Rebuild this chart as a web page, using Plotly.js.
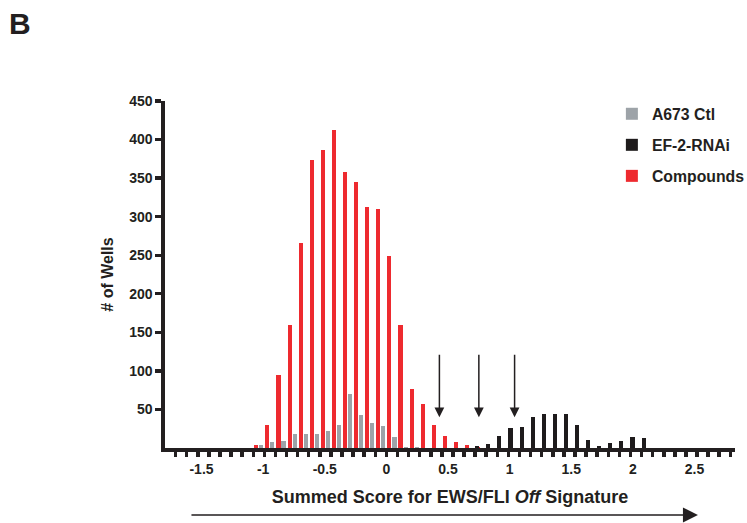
<!DOCTYPE html>
<html>
<head>
<meta charset="utf-8">
<script src="https://cdn.plot.ly/plotly-3.0.1.min.js"></script>
<style>html,body{margin:0;padding:0;background:#fff;}#chart{width:747px;height:523px;}</style>
</head>
<body>
<div id="chart"></div>
<script>
// Bin centres (score units) for the compound / control histograms
const binCenters = [-1.035, -0.945, -0.855, -0.765, -0.675, -0.585, -0.495, -0.405, -0.315, -0.225,
                    -0.135, -0.045, 0.045, 0.135, 0.225, 0.315, 0.405, 0.495, 0.585, 0.675, 0.765];
const compounds = [4, 30, 95, 160, 266, 373, 387, 412, 358, 345, 312, 310, 249, 160, 77, 57, 30, 16, 8, 4, 1];
const ctlCenters = [-1.035, -0.945, -0.855, -0.765, -0.675, -0.585, -0.495, -0.405, -0.315, -0.225,
                    -0.135, -0.045, 0.045, 0.135, 0.225];
const a673Ctl = [4, 8, 9, 18, 18, 18, 22, 30, 70, 43, 32, 28, 14, 1, 1];
// EF-2-RNAi histogram bins
const rnaiBins = [0.72, 0.81, 0.90, 0.99, 1.08, 1.17, 1.26, 1.35, 1.44, 1.53, 1.62, 1.71, 1.80, 1.89, 1.98, 2.07];
const ef2RNAi = [2, 5, 15, 26, 27, 40, 44, 44, 44, 30, 10, 3, 6, 9, 14, 13];
// axis labels
const xTickVals = [-1.5, -1, -0.5, 0, 0.5, 1, 1.5, 2, 2.5];
const xTickText = ['-1.5', '-1', '-0.5', '0', '0.5', '1', '1.5', '2', '2.5'];
const yTickVals = [50, 100, 150, 200, 250, 300, 350, 400, 450];
// hit thresholds marked by arrows
const arrowX = [0.43, 0.75, 1.04];
const arrowTip = 40, arrowTail = 123;

const INK = '#231f20';
const FONT = 'Liberation Sans, Arial, Helvetica, sans-serif';
const BW = 0.033;

const traces = [
  {type: 'bar', name: 'Compounds', x: binCenters, y: compounds, offset: -0.037, width: BW,
   marker: {color: '#ee2a2f', line: {width: 0}}, legendrank: 3, legendgroup: 'c', hoverinfo: 'x+y'},
  {type: 'bar', name: 'A673 Ctl', x: ctlCenters, y: a673Ctl, offset: 0.004, width: BW,
   marker: {color: '#9da3a8', line: {width: 0}}, legendrank: 1, legendgroup: 'a', hoverinfo: 'x+y'},
  {type: 'bar', name: 'EF-2-RNAi', x: rnaiBins, y: ef2RNAi, offset: 0.0, width: BW, xaxis: 'x2',
   marker: {color: '#1e1b1c', line: {width: 0}}, legendrank: 2, legendgroup: 'b', hoverinfo: 'x+y'}
];

const annotations = [
  {xref: 'paper', yref: 'paper', x: -0.2773, y: 1.2764, xanchor: 'left', yanchor: 'top',
   text: '<b>B</b>', showarrow: false, font: {size: 30, color: INK, family: FONT}},
  {xref: 'paper', yref: 'paper', x: 0.935, y: -0.193, ax: -508, ay: 0, text: '',
   showarrow: true, arrowhead: 2, arrowsize: 2.0, arrowwidth: 1.5, arrowcolor: INK}
];
arrowX.forEach(function (ax) {
  annotations.push({xref: 'x', yref: 'y', axref: 'x', ayref: 'y', x: ax, y: arrowTip, ax: ax, ay: arrowTail,
    text: '', showarrow: true, arrowhead: 2, arrowsize: 1.3, arrowwidth: 1.5, arrowcolor: INK});
});

const xr = [-1.796, 2.828];
const layout = {
  width: 747, height: 523,
  margin: {l: 164.85, r: 12, t: 101, b: 75, pad: 0, autoexpand: false},
  paper_bgcolor: '#fff', plot_bgcolor: '#fff',
  font: {family: FONT, color: INK},
  barmode: 'overlay', bargap: 0,
  showlegend: true,
  legend: {x: 0.784, y: 1.0115, xanchor: 'left', yanchor: 'top', tracegroupgap: 7.5,
           font: {size: 15.8, family: FONT, color: INK, weight: 'bold'}, bgcolor: 'rgba(0,0,0,0)'},
  xaxis: {range: xr, showgrid: false, zeroline: false, showline: true, linewidth: 3.7, linecolor: INK,
          ticks: 'outside', tick0: 0, dtick: 0.09, ticklen: 5, tickwidth: 3.5, tickcolor: INK,
          showticklabels: false, fixedrange: true},
  xaxis2: {range: xr, matches: 'x', overlaying: 'x', anchor: 'y', side: 'bottom', showgrid: false,
           zeroline: false, showline: false, tickmode: 'array', tickvals: xTickVals, ticktext: xTickText,
           ticks: 'outside', ticklen: 8, tickcolor: 'rgba(0,0,0,0)',
           tickfont: {size: 14, family: FONT, color: INK, weight: 'bold'},
           title: {text: '<b>Summed Score for EWS/FLI <i>Off</i> Signature</b>', standoff: 14,
                   font: {size: 18, family: FONT, color: INK}}},
  yaxis: {range: [0, 450], showgrid: false, zeroline: false, showline: true, linewidth: 3.7, linecolor: INK,
          tickmode: 'array', tickvals: yTickVals, ticks: 'outside', ticklen: 6, tickwidth: 3.3, tickcolor: INK,
          tickfont: {size: 14, family: FONT, color: INK, weight: 'bold'},
          title: {text: '<b># of Wells</b>', standoff: 12, font: {size: 16, family: FONT, color: INK}}},
  annotations: annotations
};

Plotly.newPlot('chart', traces, layout, {displayModeBar: false, staticPlot: true});
</script>
</body>
</html>
